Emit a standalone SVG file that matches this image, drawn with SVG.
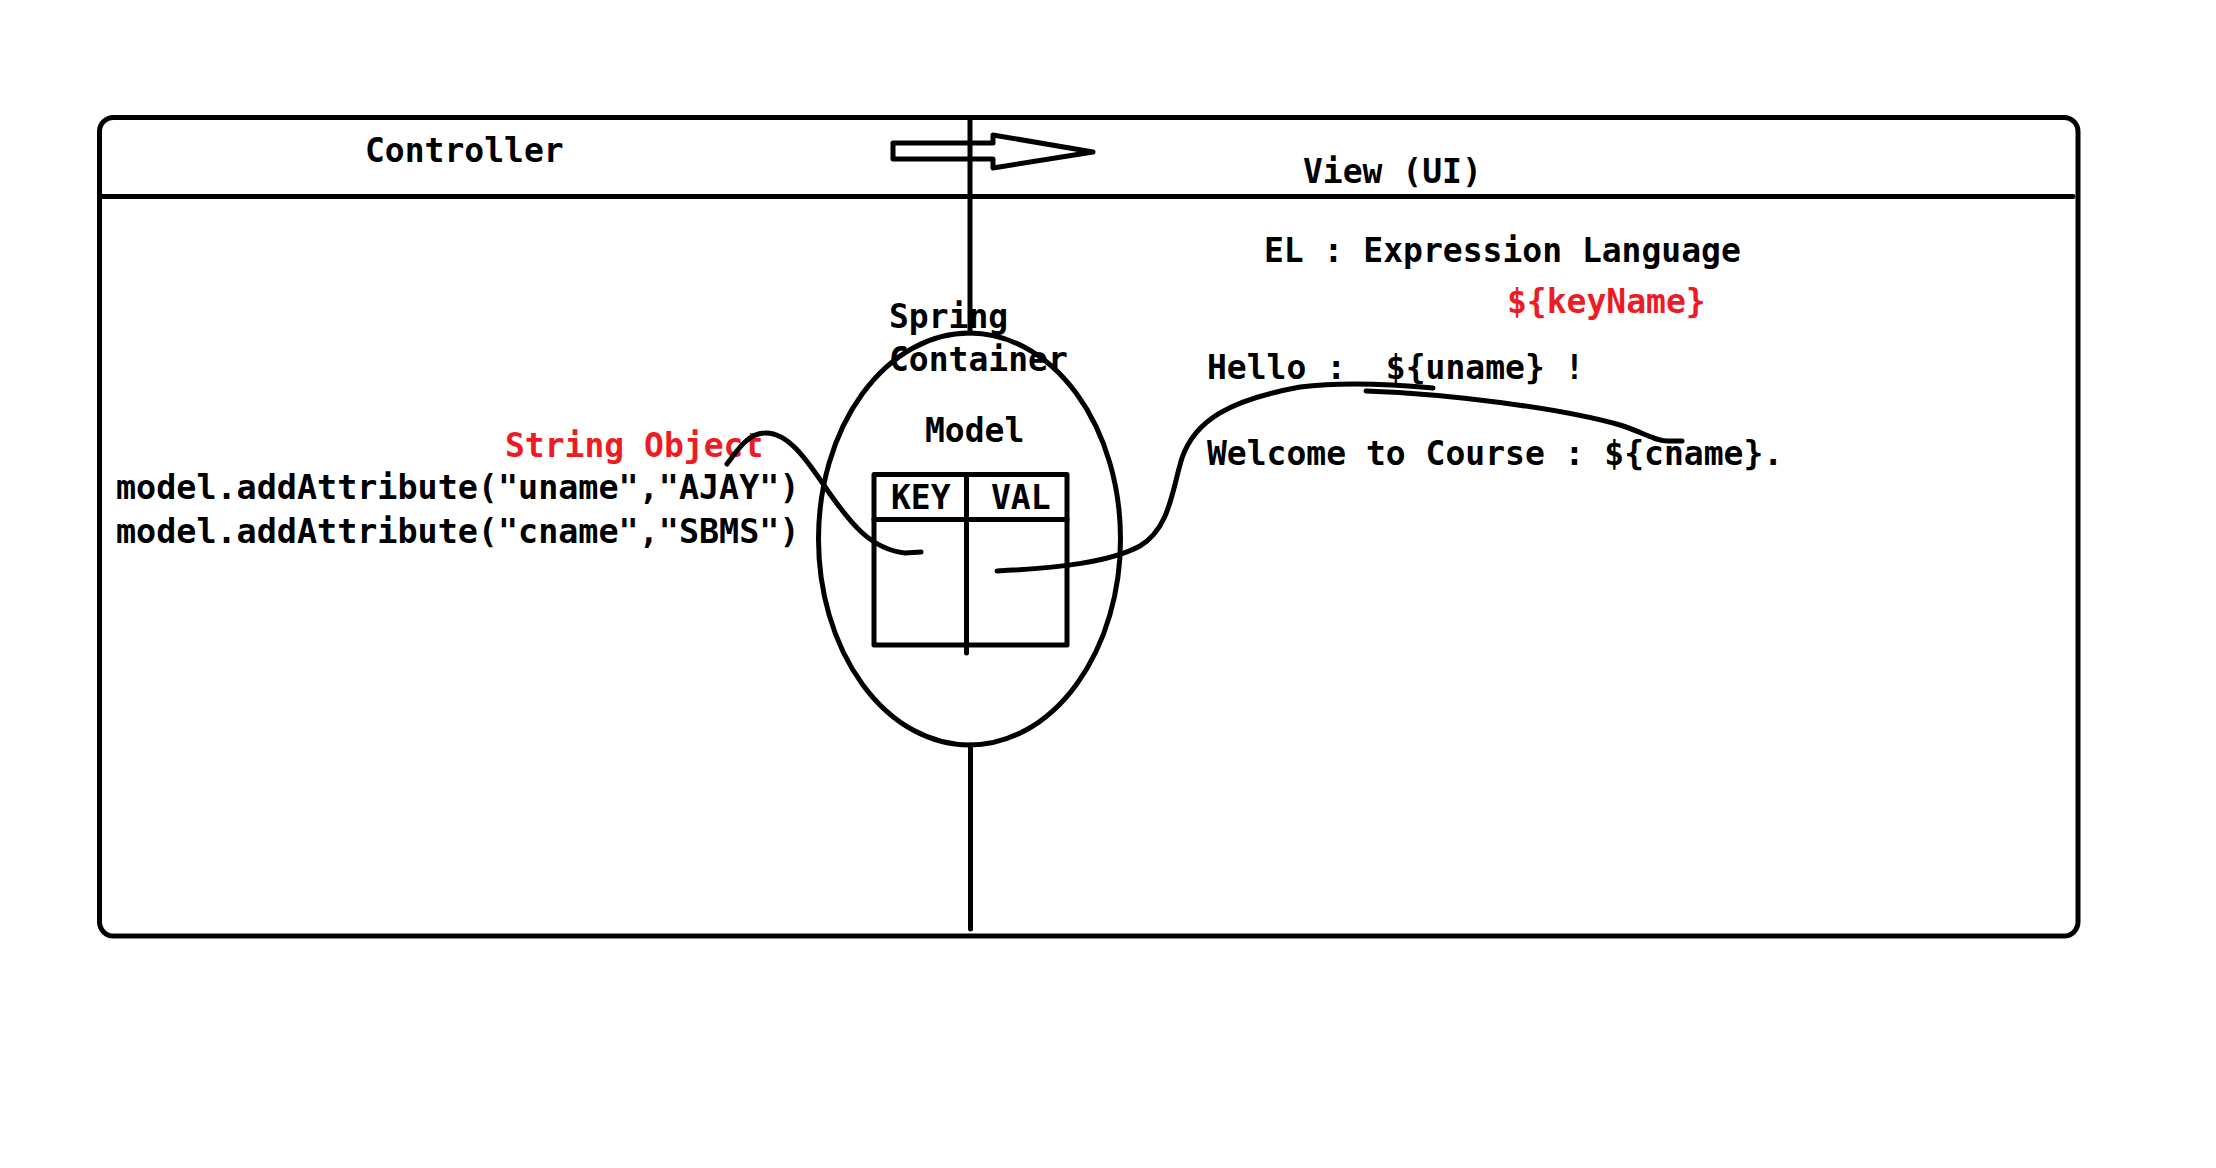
<svg xmlns="http://www.w3.org/2000/svg" width="2216" height="1168" viewBox="0 0 2216 1168">
  <style>
    .ln { fill: none; stroke: #000; stroke-width: 5; stroke-linecap: round; stroke-linejoin: round; }
    .t { font-family: "DejaVu Sans Mono", "Liberation Mono", monospace; font-weight: bold; font-size: 33px; fill: #000; }
    .c { font-size: 33.4px; }
    .r { fill: #ED1C24; }
  </style>
  <rect x="0" y="0" width="2216" height="1168" fill="#fff"/>

  <g id="frame">
    <rect class="ln" x="99.5" y="117.5" width="1978.5" height="818.5" rx="14" ry="14"/>
    <line class="ln" x1="99.5" y1="196.5" x2="2073" y2="196.5"/>
    <line class="ln" x1="970" y1="120" x2="970" y2="333"/>
    <line class="ln" x1="970.5" y1="745" x2="970.5" y2="929"/>
  </g>

  <g id="controller">
    <text class="t" x="365" y="162">Controller</text>
    <text class="t c" x="116" y="499">model.addAttribute("uname","AJAY")</text>
    <text class="t c" x="116" y="543">model.addAttribute("cname","SBMS")</text>
    <text class="t r" x="505" y="457">String Object</text>
  </g>

  <g id="view">
    <text class="t" x="1303" y="183">View (UI)</text>
    <text class="t" x="1264" y="262">EL : Expression Language</text>
    <text class="t r" x="1507" y="313">${keyName}</text>
    <text class="t" x="1207" y="379" xml:space="preserve">Hello :  ${uname} !</text>
    <text class="t" x="1207" y="465">Welcome to Course : ${cname}.</text>
  </g>

  <g id="flow-arrow">
    <polygon class="ln" stroke-width="4.5" points="893,143 993,143 993,135 1093,152 993,168 993,159 893,159"/>
  </g>

  <g id="spring-container">
    <ellipse class="ln" cx="969.5" cy="539" rx="151" ry="206"/>
    <text class="t" x="889" y="328">Spring</text>
    <text class="t" x="889" y="371">Container</text>
  </g>

  <g id="model">
    <text class="t" x="925" y="442">Model</text>
    <rect class="ln" x="874" y="474.5" width="193" height="170.5" stroke-linecap="square"/>
    <line class="ln" x1="874" y1="519.5" x2="1067" y2="519.5"/>
    <line class="ln" x1="966.5" y1="474.5" x2="966.5" y2="653"/>
    <text class="t" x="891" y="509">KEY</text>
    <text class="t" x="991" y="509">VAL</text>
  </g>

  <g id="connectors">
    <path class="ln" d="M727,464 C740,446 750,433 765,433 C790,432 810,465 830,494 C850,522 870,549 905,553 L921,552"/>
    <path class="ln" d="M997,571 C1060,568 1110,562 1140,546 C1170,528 1172,490 1182,458 C1195,420 1230,400 1300,387 C1350,381 1400,385 1433,388"/>
    <path class="ln" d="M1366,391 C1450,394 1560,408 1620,425 C1645,433 1655,441 1668,441 L1682,441"/>
  </g>
</svg>
